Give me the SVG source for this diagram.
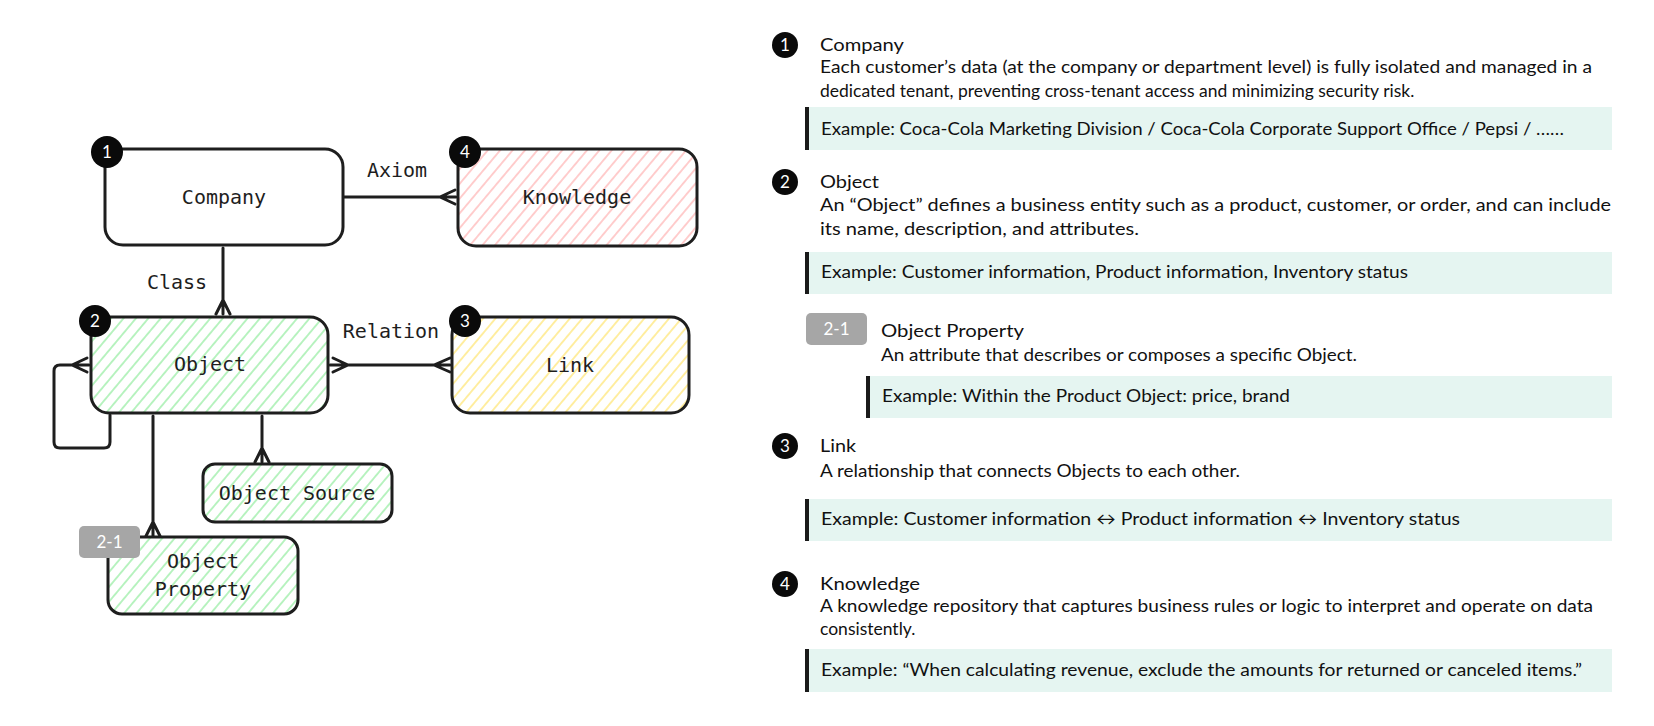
<svg xmlns="http://www.w3.org/2000/svg" width="1654" height="726" viewBox="0 0 1654 726">
<style>
.box{stroke:#1e1e1e;stroke-width:3;stroke-linejoin:round}
.conn{fill:none;stroke:#1e1e1e;stroke-width:3;stroke-linecap:round;stroke-linejoin:round}
.mono{font-family:"DejaVu Sans Mono","Liberation Mono",monospace;font-size:20px;fill:#1e1e1e}
.badge{fill:#0a0a0a}
.bnum{font-family:Lato,"Liberation Sans",sans-serif;font-size:17px;fill:#ffffff;text-anchor:middle}
.gbadge{fill:#a6a6a6}
.txt{font-family:Lato,"Liberation Sans","DejaVu Sans",sans-serif;font-size:17.5px;fill:#111111}
.ex{fill:#e5f5f1}
.bar{fill:#1a1a1a}
</style>
<defs>
<pattern id="hGreen" width="9.5" height="10" patternUnits="userSpaceOnUse" patternTransform="rotate(40)">
<rect width="9.5" height="10" fill="#ffffff"/>
<line x1="4.75" y1="0" x2="4.75" y2="10" stroke="#b2f2bb" stroke-width="1.8"/>
</pattern>
<pattern id="hPink" width="9.5" height="10" patternUnits="userSpaceOnUse" patternTransform="rotate(40)">
<rect width="9.5" height="10" fill="#ffffff"/>
<line x1="4.75" y1="0" x2="4.75" y2="10" stroke="#ffc9c9" stroke-width="1.8"/>
</pattern>
<pattern id="hYellow" width="9.5" height="10" patternUnits="userSpaceOnUse" patternTransform="rotate(40)">
<rect width="9.5" height="10" fill="#ffffff"/>
<line x1="4.75" y1="0" x2="4.75" y2="10" stroke="#ffec99" stroke-width="1.8"/>
</pattern>
</defs>
<rect width="1654" height="726" fill="#ffffff"/>

<g id="connectors">
<path class="conn" d="M223,248 V314 M216,314 L223,300 L230,314"/>
<path class="conn" d="M343,197 H456 M455,190 L440,197 L455,204"/>
<path class="conn" d="M330,365 H450 M333,358 L348,365 L333,372 M450,358 L434,365 L450,372"/>
<path class="conn" d="M110,415 V442 Q110,448 104,448 H60 Q54,448 54,442 V371 Q54,365 60,365 H89 M87,358 L72,365 L87,372"/>
<path class="conn" d="M153,416 V536 M146,536 L153,522 L160,536"/>
<path class="conn" d="M262,416 V462 M255,462 L262,448 L269,462"/>
<text class="mono" x="177" y="289" text-anchor="middle">Class</text>
<text class="mono" x="397" y="177" text-anchor="middle">Axiom</text>
<text class="mono" x="391" y="338" text-anchor="middle">Relation</text>
</g>

<g id="node-company">
<rect class="box" x="105" y="149" width="238" height="96" rx="18" fill="#ffffff"/>
<text class="mono" x="224" y="204" text-anchor="middle">Company</text>
<circle class="badge" cx="107" cy="152" r="16"/>
<text class="bnum" x="107" y="158">1</text>
</g>

<g id="node-knowledge">
<rect class="box" x="458" y="149" width="239" height="97" rx="18" fill="url(#hPink)"/>
<text class="mono" x="577" y="204" text-anchor="middle">Knowledge</text>
<circle class="badge" cx="465" cy="152" r="16"/>
<text class="bnum" x="465" y="158">4</text>
</g>

<g id="node-object">
<rect class="box" x="91" y="317" width="237" height="96" rx="18" fill="url(#hGreen)"/>
<text class="mono" x="210" y="371" text-anchor="middle">Object</text>
<circle class="badge" cx="95" cy="321" r="16"/>
<text class="bnum" x="95" y="327">2</text>
</g>

<g id="node-link">
<rect class="box" x="452" y="317" width="237" height="96" rx="18" fill="url(#hYellow)"/>
<text class="mono" x="570" y="372" text-anchor="middle">Link</text>
<circle class="badge" cx="465" cy="321" r="16"/>
<text class="bnum" x="465" y="327">3</text>
</g>

<g id="node-object-source">
<rect class="box" x="203" y="464" width="189" height="58" rx="12" fill="url(#hGreen)"/>
<text class="mono" x="297" y="500" text-anchor="middle">Object Source</text>
</g>

<g id="node-object-property">
<rect class="box" x="108" y="537" width="190" height="77" rx="14" fill="url(#hGreen)"/>
<text class="mono" x="203" y="568" text-anchor="middle">Object</text>
<text class="mono" x="203" y="596" text-anchor="middle">Property</text>
<rect class="gbadge" x="79" y="526" width="61" height="32" rx="5"/>
<text class="bnum" x="109.5" y="548">2-1</text>
</g>

<g id="desc-company">
<circle class="badge" cx="785" cy="45" r="13"/>
<text class="bnum" x="785" y="51">1</text>
<text class="txt" x="820" y="51" textLength="84" lengthAdjust="spacingAndGlyphs">Company</text>
<text class="txt" x="820" y="73" textLength="772" lengthAdjust="spacingAndGlyphs">Each customer’s data (at the company or department level) is fully isolated and managed in a</text>
<text class="txt" x="820" y="97">dedicated tenant, preventing cross-tenant access and minimizing security risk.</text>
<rect class="ex" x="805" y="107" width="807" height="43"/>
<rect class="bar" x="805" y="107" width="4" height="43"/>
<text class="txt" x="821" y="135" textLength="743" lengthAdjust="spacingAndGlyphs">Example: Coca-Cola Marketing Division / Coca-Cola Corporate Support Office / Pepsi / ……</text>
</g>

<g id="desc-object">
<circle class="badge" cx="785" cy="182" r="13"/>
<text class="bnum" x="785" y="188">2</text>
<text class="txt" x="820" y="188" textLength="59" lengthAdjust="spacingAndGlyphs">Object</text>
<text class="txt" x="820" y="211" textLength="791" lengthAdjust="spacingAndGlyphs">An “Object” defines a business entity such as a product, customer, or order, and can include</text>
<text class="txt" x="820" y="235" textLength="319" lengthAdjust="spacingAndGlyphs">its name, description, and attributes.</text>
<rect class="ex" x="805" y="252" width="807" height="42"/>
<rect class="bar" x="805" y="252" width="4" height="42"/>
<text class="txt" x="821" y="278" textLength="587" lengthAdjust="spacingAndGlyphs">Example: Customer information, Product information, Inventory status</text>
</g>

<g id="desc-object-property">
<rect class="gbadge" x="806" y="313" width="61" height="32" rx="5"/>
<text class="bnum" x="836.5" y="335">2-1</text>
<text class="txt" x="881" y="337" textLength="143" lengthAdjust="spacingAndGlyphs">Object Property</text>
<text class="txt" x="881" y="361" textLength="476" lengthAdjust="spacingAndGlyphs">An attribute that describes or composes a specific Object.</text>
<rect class="ex" x="866" y="376" width="746" height="42"/>
<rect class="bar" x="866" y="376" width="4" height="42"/>
<text class="txt" x="882" y="402" textLength="408" lengthAdjust="spacingAndGlyphs">Example: Within the Product Object: price, brand</text>
</g>

<g id="desc-link">
<circle class="badge" cx="785" cy="446" r="13"/>
<text class="bnum" x="785" y="452">3</text>
<text class="txt" x="820" y="452" textLength="36" lengthAdjust="spacingAndGlyphs">Link</text>
<text class="txt" x="820" y="477" textLength="420" lengthAdjust="spacingAndGlyphs">A relationship that connects Objects to each other.</text>
<rect class="ex" x="805" y="499" width="807" height="42"/>
<rect class="bar" x="805" y="499" width="4" height="42"/>
<text class="txt" x="821" y="525" textLength="639" lengthAdjust="spacingAndGlyphs">Example: Customer information ↔ Product information ↔ Inventory status</text>
</g>

<g id="desc-knowledge">
<circle class="badge" cx="785" cy="584" r="13"/>
<text class="bnum" x="785" y="590">4</text>
<text class="txt" x="820" y="590" textLength="100" lengthAdjust="spacingAndGlyphs">Knowledge</text>
<text class="txt" x="820" y="612" textLength="773" lengthAdjust="spacingAndGlyphs">A knowledge repository that captures business rules or logic to interpret and operate on data</text>
<text class="txt" x="820" y="635">consistently.</text>
<rect class="ex" x="805" y="649" width="807" height="43"/>
<rect class="bar" x="805" y="649" width="4" height="43"/>
<text class="txt" x="821" y="676" textLength="761" lengthAdjust="spacingAndGlyphs">Example: “When calculating revenue, exclude the amounts for returned or canceled items.”</text>
</g>
</svg>
